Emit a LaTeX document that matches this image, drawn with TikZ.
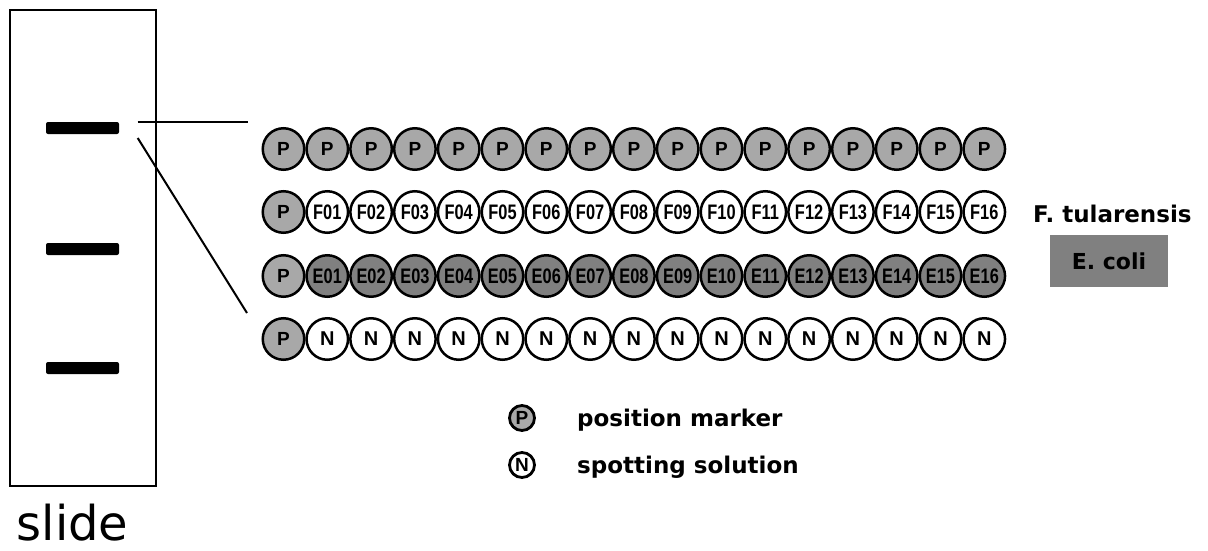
\documentclass[tikz,border=0pt]{standalone}
\usepackage{fontspec}
\usepackage{graphicx}
\setmainfont{DejaVu Sans}
\newfontfamily\spotfont{Liberation Sans}

\definecolor{markgray}{gray}{0.66}
\definecolor{ecoligray}{gray}{0.50}

\tikzset{
  spot/.style={circle, draw=black, line width=2.5pt, minimum size=41.5pt, inner sep=0pt},
  marker/.style={spot, fill=markgray, font=\spotfont\bfseries\fontsize{19}{19}\selectfont},
  ftul/.style={spot, fill=white},
  ecoli/.style={spot, fill=ecoligray},
  blank/.style={spot, fill=white, font=\spotfont\bfseries\fontsize{20}{20}\selectfont},
  keyspot/.style={circle, draw=black, line width=2.8pt, minimum size=25pt, inner sep=0pt,
    font=\spotfont\bfseries\fontsize{19}{19}\selectfont},
  band/.style={fill=black, rounded corners=2pt},
  link/.style={line width=2pt},
  caption/.style={font=\bfseries\fontsize{23}{23}\selectfont},
}

\newcommand{\narrowlabel}[1]{\scalebox{0.78}[1]{\spotfont\bfseries\fontsize{21}{21}\selectfont #1}}

\begin{document}
\begin{tikzpicture}[x=1pt, y=-1pt]
  \useasboundingbox (0,0) rectangle (1208,551);

  % the slide with its three spotted bands
  \node[draw=black, line width=2pt, minimum width=146pt, minimum height=476pt, inner sep=0pt]
    (slide) at (82.5,248) {};
  \node[band, minimum width=73pt, minimum height=12pt, inner sep=0pt] (band1) at (82.5,128) {};
  \node[band, minimum width=73pt, minimum height=12pt, inner sep=0pt] (band2) at (82.5,249) {};
  \node[band, minimum width=73pt, minimum height=12pt, inner sep=0pt] (band3) at (82.5,368) {};
  \node[font=\fontsize{48}{48}\selectfont, anchor=base, inner sep=0pt] (slidelabel) at (72.5,540) {slide};

  % enlargement lines from the first band to the array
  \coordinate (zoomA) at (137.7,122);
  \coordinate (zoomB) at (248,122);
  \coordinate (zoomC) at (137.7,138);
  \coordinate (zoomD) at (247,313);
  \draw[link] (zoomA) -- (zoomB);
  \draw[link] (zoomC) -- (zoomD);

  % spot array: four rows of seventeen spots
  \foreach \i in {0,...,16} {
    \node[marker] (r1-\i) at ({283.5+43.8*\i},149) {P};
  }
  \node[marker] (r2-0) at (283.5,212) {P};
  \node[marker] (r3-0) at (283.5,276) {P};
  \node[marker] (r4-0) at (283.5,339) {P};
  \foreach \i in {1,...,16} {
    \pgfmathsetmacro{\xx}{283.5+43.8*\i}
    \edef\num{\ifnum\i<10 0\fi\i}
    \node[ftul] (r2-\i) at (\xx,212) {\narrowlabel{F\num}};
    \node[ecoli] (r3-\i) at (\xx,276) {\narrowlabel{E\num}};
    \node[blank] (r4-\i) at (\xx,339) {N};
  }

  % species labels
  \node[caption, anchor=base west, inner sep=0pt] (ftlabel) at (1033,222) {F. tularensis};
  \node[fill=ecoligray, minimum width=118pt, minimum height=52pt, inner sep=0pt,
        font=\bfseries\fontsize{22}{22}\selectfont] (ecolibox) at (1109,261) {E. coli};

  % legend
  \node[keyspot, fill=markgray] (keyP) at (522,418) {P};
  \node[keyspot, fill=white] (keyN) at (522,465) {N};
  \node[caption, anchor=base west, inner sep=0pt] (keyPtext) at (577,426) {position marker};
  \node[caption, anchor=base west, inner sep=0pt] (keyNtext) at (577,473) {spotting solution};
\end{tikzpicture}
\end{document}
